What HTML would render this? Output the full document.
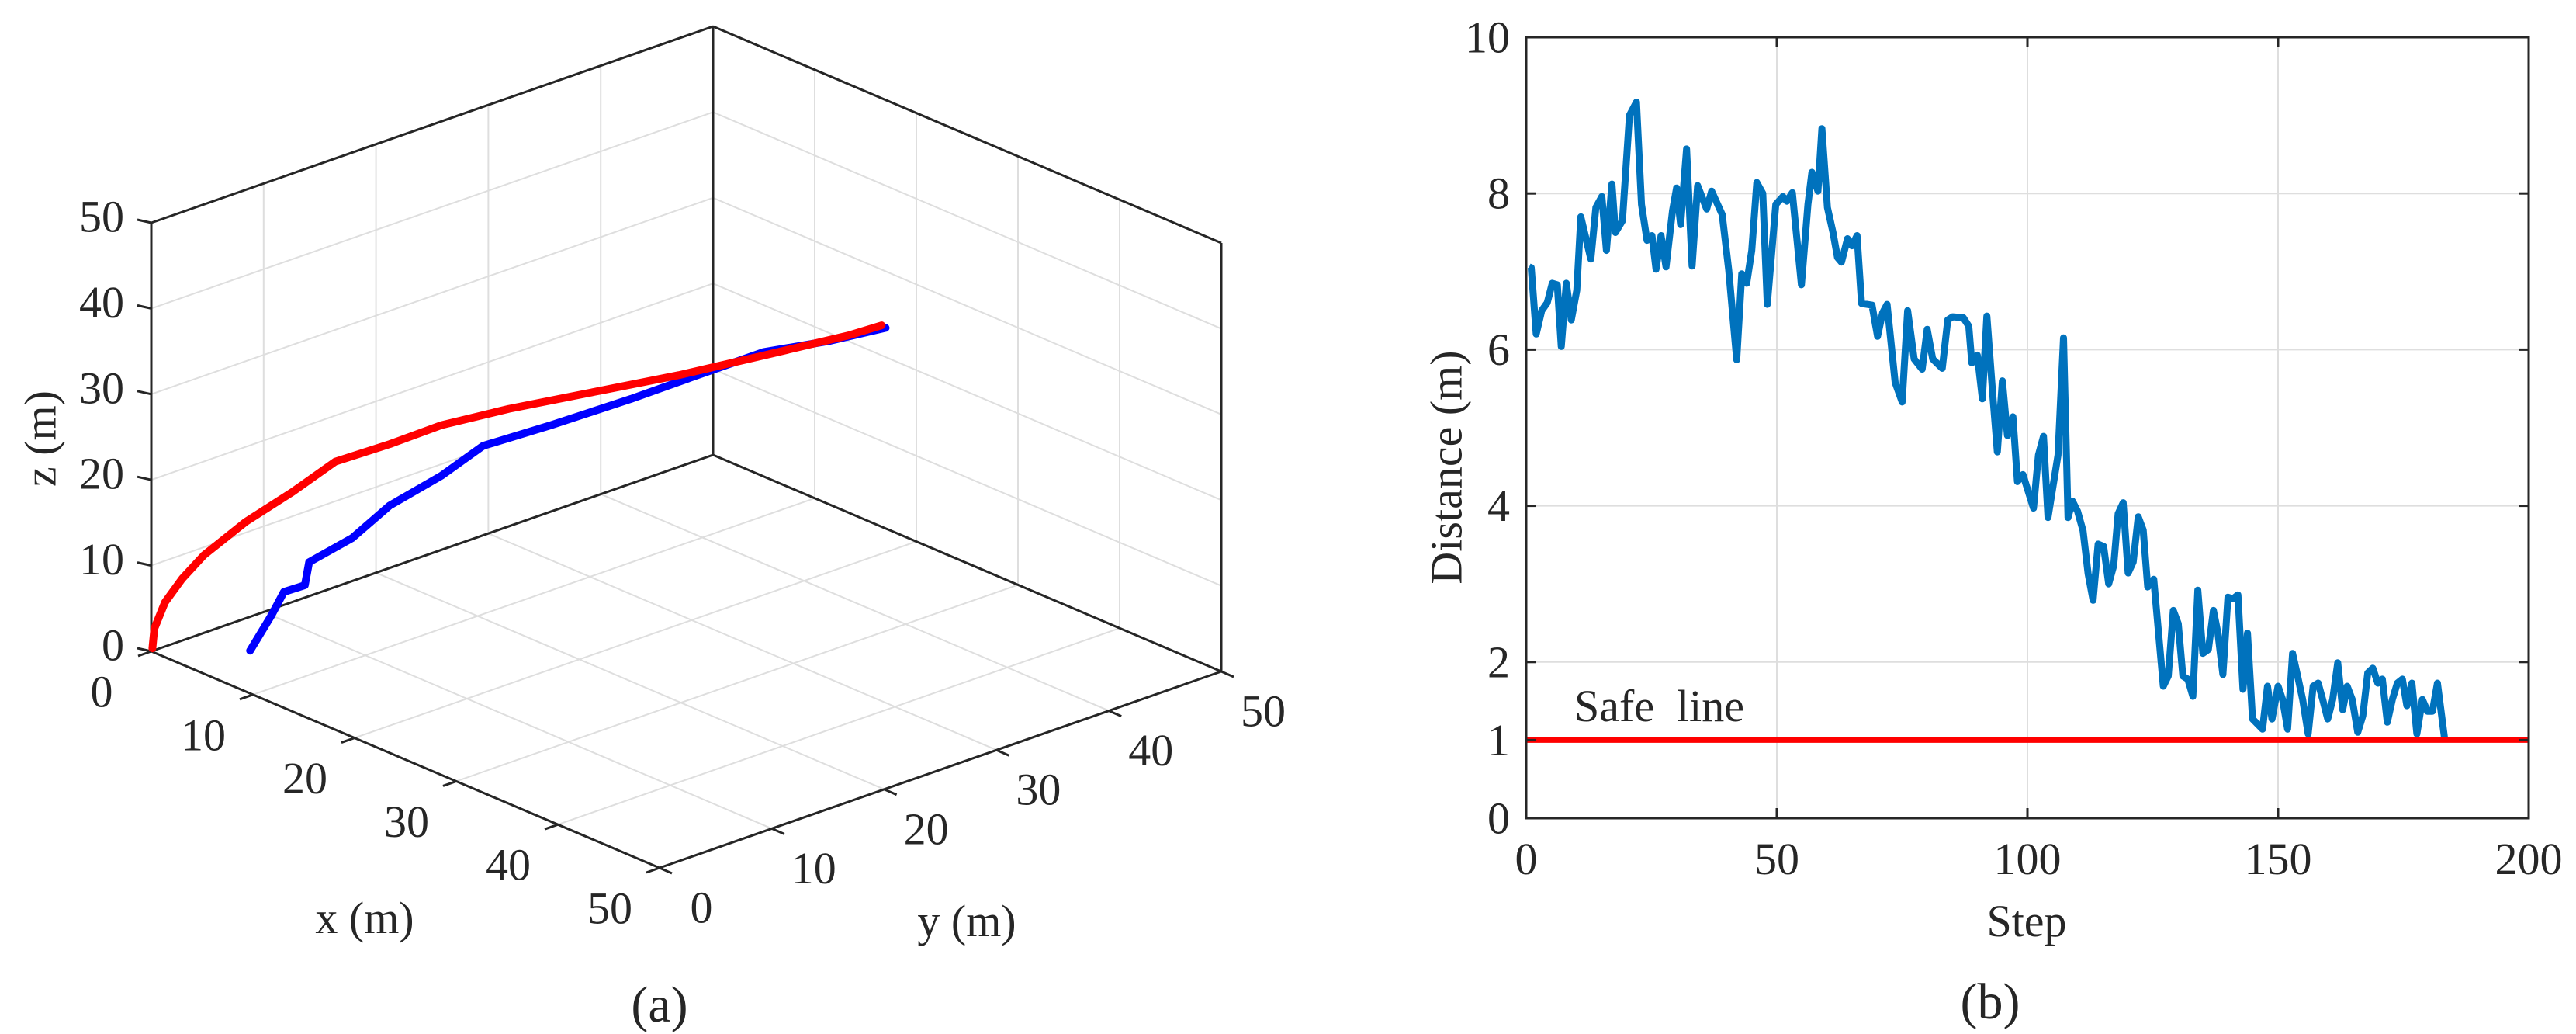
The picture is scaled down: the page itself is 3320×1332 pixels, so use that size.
<!DOCTYPE html>
<html><head><meta charset="utf-8"><style>
html,body{margin:0;padding:0;background:#fff;}
svg{display:block;}
text{font-family:"Liberation Serif",serif;fill:#262626;}
</style></head>
<body>
<svg id="fig" width="3320" height="1332" viewBox="0 0 3320 1332" xmlns="http://www.w3.org/2000/svg">
<g id="left"></g>
<g id="right"></g>
</svg>
<script>
// ---------- 3D trajectory data ----------
const ticks3d = [0, 10, 20, 30, 40, 50];
const redX = [0, 0.3, 0.8, 1.5, 2.2, 3.2, 4.3, 5.4, 6.8, 8.2, 10, 12.5, 15, 18, 21.5, 23];
const redY = [0.1, 0, 0.5, 1.4, 2.7, 5.5, 8.7, 11.5, 15.1, 18.4, 22.8, 28.1, 33.4, 38.2, 42.6, 44.2];
const redZ = [0.3, 2.8, 5.9, 8.6, 11.1, 14.2, 16.8, 19.6, 20.7, 22.1, 22.9, 23.7, 24.5, 26.1, 28.2, 29.4];
const blueX = [4.3, 4.8, 5.2, 5.6, 5.8, 6.5, 7.2, 8.2, 9.2, 11, 13.5, 15.5, 18, 20.5, 23.5];
const blueY = [4.9, 6.35, 7.1, 8.6, 8.8, 12.0, 14.7, 18.4, 21.2, 25.6, 30.5, 34.4, 38.2, 41.9, 44.1];
const blueZ = [0, 3.7, 6.3, 6.6, 9.3, 11.0, 13.9, 16.2, 18.9, 20.2, 22.3, 24.2, 26.5, 27.4, 29.4];

// ---------- distance data ----------
const steps = [0.6,1,2,3.1,4.2,5.2,6.2,7,8,9,10.1,10.9,12.9,13.9,15.1,16,17.1,17.8,19.2,20.6,22,23,24.1,25.1,25.9,26.9,27.9,29.2,30,30.8,32,33.1,34.2,36,37,39.1,40.4,42,43,44,45,46,47.2,48.1,49.8,51.2,52,53.1,54.9,56.2,57,58.2,59,60.1,61.2,62.1,62.9,64.1,65,66,66.9,69,70.1,71.1,72,73.6,75,76.1,77.4,79,80,81.1,83,84.1,85.1,87.2,88.3,88.9,90,91,91.9,93.1,94,95,96,97.1,98,99.1,101.2,102.2,103.2,104.1,106.1,107.2,108.1,109,110,111.1,112.1,113.1,114.1,115.2,116.2,117.2,118.1,119.1,120.1,121.1,122.1,123.1,124,125.2,127.1,128.1,129.1,130.1,131,132,133,134,135,136.1,137.1,138,139,140,141,142,143,143.9,144.9,146.9,147.9,148.8,150,150.9,151.9,152.9,153.9,154.9,156,157,158,158.9,159.9,160.9,161.9,162.9,163.8,164.8,165.9,166.9,167.9,168.9,169.9,170.8,171.8,172.8,173.8,174.8,175.7,176.7,177.7,178.8,179.8,180.8,181.8,183.2];
const distances = [7.06,7.05,6.2,6.5,6.6,6.85,6.83,6.04,6.85,6.38,6.76,7.7,7.16,7.82,7.96,7.27,8.12,7.5,7.65,9.0,9.17,7.86,7.4,7.46,7.03,7.46,7.06,7.78,8.07,7.6,8.57,7.07,8.1,7.8,8.03,7.73,7.02,5.87,6.97,6.85,7.27,8.14,8.0,6.58,7.86,7.96,7.9,8.01,6.83,7.86,8.27,8.03,8.83,7.82,7.5,7.18,7.12,7.42,7.33,7.46,6.59,6.57,6.17,6.47,6.58,5.58,5.33,6.5,5.88,5.75,6.26,5.88,5.76,6.38,6.42,6.41,6.3,5.83,5.93,5.37,6.43,5.41,4.69,5.6,4.9,5.14,4.31,4.4,3.97,4.65,4.89,3.85,4.65,6.15,3.85,4.06,3.93,3.68,3.13,2.79,3.51,3.48,3.0,3.23,3.9,4.04,3.14,3.28,3.86,3.69,2.96,3.06,1.69,1.82,2.66,2.49,1.82,1.78,1.56,2.92,2.11,2.16,2.66,2.37,1.84,2.83,2.81,2.86,1.65,2.37,1.27,1.14,1.69,1.27,1.69,1.52,1.14,2.11,1.82,1.52,1.08,1.69,1.73,1.52,1.27,1.52,1.99,1.39,1.69,1.52,1.1,1.31,1.86,1.92,1.73,1.78,1.23,1.52,1.73,1.78,1.44,1.73,1.08,1.52,1.37,1.37,1.73,1.03];
const xTicks = [0, 50, 100, 150, 200];
const yTicks = [0, 1, 2, 4, 6, 8, 10];
const safeValue = [1];

const NS = "http://www.w3.org/2000/svg";
const FS = 58;
function mk(parent, tag, attrs, txt) {
  const e = document.createElementNS(NS, tag);
  for (const k in attrs) e.setAttribute(k, attrs[k]);
  if (txt !== undefined) e.textContent = txt;
  parent.appendChild(e);
  return e;
}

// ---------- 3D projection ----------
const L = document.getElementById('left');
function P(x, y, z) {
  return [195 + x / 50 * 655 + y / 50 * 724, 839 + x / 50 * 279 - y / 50 * 253 - z / 50 * 552];
}
function seg(a, b, stroke, w, name) {
  const l = mk(L, 'line', {x1: a[0], y1: a[1], x2: b[0], y2: b[1], stroke: stroke, 'stroke-width': w});
  
  
  return l;
}
const gc = '#dedede';
ticks3d.slice(1, 5).forEach(k => {
  seg(P(0, k, 0), P(0, k, 50), gc, 2, 'grid-wall-y');
  seg(P(0, 0, k), P(0, 50, k), gc, 2, 'grid-wall-z');
  seg(P(k, 50, 0), P(k, 50, 50), gc, 2, 'grid-wall-x');
  seg(P(0, 50, k), P(50, 50, k), gc, 2, 'grid-wall-z');
  seg(P(k, 0, 0), P(k, 50, 0), gc, 2, 'grid-floor-x');
  seg(P(0, k, 0), P(50, k, 0), gc, 2, 'grid-floor-y');
});
const ac = '#262626';
[[[0,0,0],[0,0,50]],[[0,0,50],[0,50,50]],[[0,50,50],[50,50,50]],[[50,50,0],[50,50,50]],
 [[0,50,0],[0,50,50]],[[0,0,0],[0,50,0]],[[0,50,0],[50,50,0]],[[0,0,0],[50,0,0]],[[50,0,0],[50,50,0]]]
 .forEach(e => seg(P(...e[0]), P(...e[1]), ac, 3, 'box-edge'));

ticks3d.forEach(k => {
  let p = P(k, 0, 0);
  seg(p, [p[0] - 17, p[1] + 6], ac, 3, 'x-tick');
  let t = mk(L, 'text', {x: p[0] - 64, y: p[1] + 52, 'font-size': FS, 'text-anchor': 'middle', 'dominant-baseline': 'central'}, String(k));
  
  
  p = P(50, k, 0);
  seg(p, [p[0] + 16, p[1] + 7], ac, 3, 'y-tick');
  t = mk(L, 'text', {x: p[0] + 54, y: p[1] + 51, 'font-size': FS, 'text-anchor': 'middle', 'dominant-baseline': 'central'}, String(k));
  
  
  p = P(0, 0, k);
  seg(p, [p[0] - 18, p[1] - 4], ac, 3, 'z-tick');
  t = mk(L, 'text', {x: 160, y: p[1] - 8, 'font-size': FS, 'text-anchor': 'end', 'dominant-baseline': 'central'}, String(k));
  
  
});

function path3(xs, ys, zs, color, name) {
  const d = xs.map((x, i) => { const p = P(x, ys[i], zs[i]); return (i ? 'L' : 'M') + p[0].toFixed(1) + ' ' + p[1].toFixed(1); }).join(' ');
  const e = mk(L, 'path', {d: d, fill: 'none', stroke: color, 'stroke-width': 10, 'stroke-linejoin': 'round', 'stroke-linecap': 'round'});
  
  
}
path3(blueX, blueY, blueZ, '#0000ff', 'blue-trajectory');
path3(redX, redY, redZ, '#ff0000', 'red-trajectory');

let lab = mk(L, 'text', {x: 470, y: 1202, 'font-size': FS, 'text-anchor': 'middle'}, 'x (m)');
 
lab = mk(L, 'text', {x: 1246, y: 1206, 'font-size': FS, 'text-anchor': 'middle'}, 'y (m)');
 
lab = mk(L, 'text', {x: 0, y: 0, 'font-size': FS, 'text-anchor': 'middle', 'dominant-baseline': 'central', transform: 'translate(52,565) rotate(-90)'}, 'z (m)');
 
lab = mk(L, 'text', {x: 850, y: 1316, 'font-size': 66, 'text-anchor': 'middle'}, '(a)');
 

// ---------- 2D distance plot ----------
const R = document.getElementById('right');
const X0 = 1967, X1 = 3259, Y0 = 1054, Y1 = 48;
const xS = s => X0 + (s - 0) / 200 * (X1 - X0);
const yS = v => Y0 - v / 10 * (Y0 - Y1);
function rl(x1, y1, x2, y2, stroke, w, name) {
  const l = mk(R, 'line', {x1, y1, x2, y2, stroke, 'stroke-width': w});
  
  
}
xTicks.forEach(t => { if (t > 0 && t < 200) rl(xS(t), Y1, xS(t), Y0, '#dedede', 2, 'x-grid-line'); });
yTicks.forEach(t => { if (t > 0 && t < 10) rl(X0, yS(t), X1, yS(t), '#dedede', 2, 'y-grid-line'); });

const dd = steps.map((s, i) => (i ? 'L' : 'M') + xS(s).toFixed(1) + ' ' + yS(distances[i]).toFixed(1)).join(' ');
const dl = mk(R, 'path', {d: dd, fill: 'none', stroke: '#0072bd', 'stroke-width': 9, 'stroke-linejoin': 'round'});


rl(X0, yS(safeValue[0]), X1, yS(safeValue[0]), '#ff0000', 7, 'safe-line');

const box = mk(R, 'rect', {x: X0, y: Y1, width: X1 - X0, height: Y0 - Y1, fill: 'none', stroke: '#262626', 'stroke-width': 3});



xTicks.forEach(t => {
  rl(xS(t), Y0, xS(t), Y0 - 13, '#262626', 3, 'x-tick');
  rl(xS(t), Y1, xS(t), Y1 + 13, '#262626', 3, 'x-tick');
  const e = mk(R, 'text', {x: xS(t), y: 1126, 'font-size': FS, 'text-anchor': 'middle'}, String(t));
  
  
});
yTicks.forEach(t => {
  rl(X0, yS(t), X0 + 13, yS(t), '#262626', 3, 'y-tick');
  rl(X1, yS(t), X1 - 13, yS(t), '#262626', 3, 'y-tick');
  const e = mk(R, 'text', {x: 1946, y: yS(t), 'font-size': FS, 'text-anchor': 'end', 'dominant-baseline': 'central'}, String(t));
  
  
});
lab = mk(R, 'text', {x: 2612, y: 1206, 'font-size': FS, 'text-anchor': 'middle'}, 'Step');
 
lab = mk(R, 'text', {x: 0, y: 0, 'font-size': FS, 'text-anchor': 'middle', 'dominant-baseline': 'central', transform: 'translate(1864,602) rotate(-90)'}, 'Distance (m)');
 
lab = mk(R, 'text', {x: 2029, y: 929, 'font-size': FS}, 'Safe  line');
lab.setAttribute('style', 'white-space:pre');
 
lab = mk(R, 'text', {x: 2565, y: 1312, 'font-size': 66, 'text-anchor': 'middle'}, '(b)');
 
</script>
</body></html>
